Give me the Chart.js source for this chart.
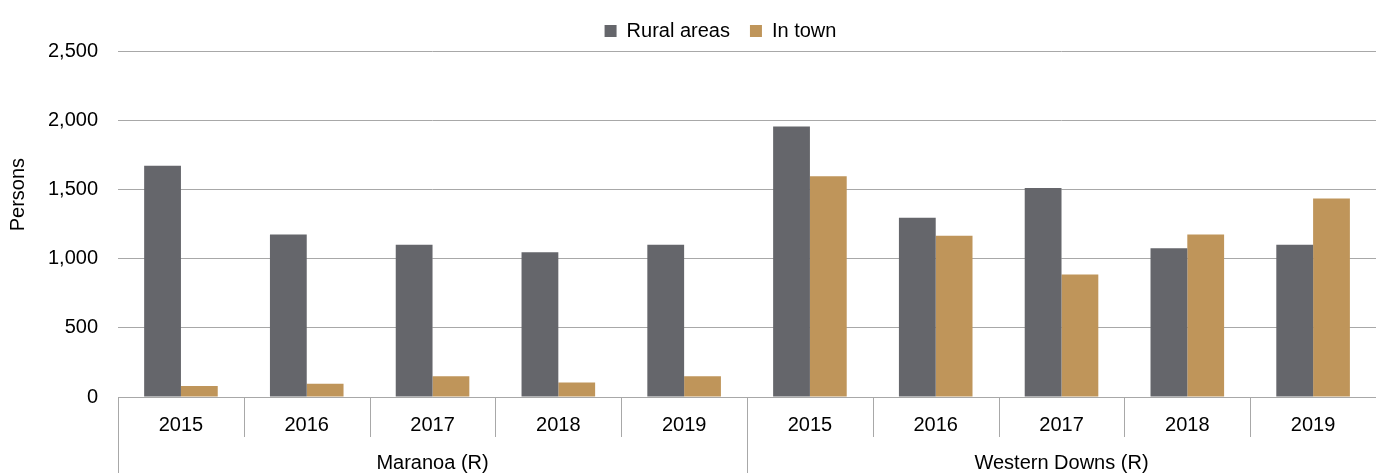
<!DOCTYPE html>
<html>
<head>
<meta charset="utf-8">
<script src="https://cdn.jsdelivr.net/npm/chart.js@4.4.0/dist/chart.umd.min.js"></script>
<style>
    html, body { margin: 0; padding: 0; background: #ffffff; }
    #grafico-container { width: 1376px; height: 473px; position: relative; }
</style>
</head>
<body>
<div id="grafico-container"><canvas id="grafico"></canvas></div>
<script>
// dados
const anos = ['2015', '2016', '2017', '2018', '2019', '2015', '2016', '2017', '2018', '2019'];
const regioes = ['Maranoa (R)', 'Western Downs (R)'];
const ruralAreas = [1670, 1175, 1100, 1045, 1100, 1955, 1295, 1510, 1075, 1100];
const inTown = [80, 95, 150, 105, 150, 1595, 1165, 885, 1175, 1435];
const yTicks = [0, 500, 1000, 1500, 2000, 2500];
const tituloEixoY = 'Persons';

const cores = {
    rural: '#65666b',
    town: '#bf955a',
    grade: '#a8a8a8',
    texto: '#000000'
};

Chart.defaults.font.family = "'Liberation Sans', Arial, sans-serif";
Chart.defaults.font.size = 20;
Chart.defaults.font.lineHeight = 1;
Chart.defaults.color = cores.texto;

// linhas verticais entre as categorias do eixo x
const divisorias = {
    id: 'divisorias',
    afterDraw(chart) {
        const x = chart.scales.x;
        const ctx = chart.ctx;
        const passo = x.width / anos.length;
        ctx.save();
        ctx.strokeStyle = cores.grade;
        ctx.lineWidth = 1;
        for (let i = 0; i <= anos.length; i++) {
            const px = Math.round(x.left + i * passo) + 0.5;
            const fim = (i % 5 === 0) ? chart.height : x.top + 40;
            ctx.beginPath();
            ctx.moveTo(px, x.top);
            ctx.lineTo(px, fim);
            ctx.stroke();
        }
        ctx.restore();
    }
};

// titulo do eixo y, um pouco acima do centro como no original
const tituloY = {
    id: 'tituloY',
    afterDraw(chart) {
        const y = chart.scales.y;
        const ctx = chart.ctx;
        ctx.save();
        ctx.translate(18, y.top + (y.bottom - y.top) * 0.415);
        ctx.rotate(-Math.PI / 2);
        ctx.font = "20px 'Liberation Sans', Arial, sans-serif";
        ctx.fillStyle = cores.texto;
        ctx.textAlign = 'center';
        ctx.textBaseline = 'middle';
        ctx.fillText(tituloEixoY, 0, 0);
        ctx.restore();
    }
};

// legenda um pouco deslocada para a direita, como no original
const ajusteLegenda = {
    id: 'ajusteLegenda',
    afterLayout(chart) {
        chart.legend.left += 16;
        chart.legend.right += 16;
    }
};

const ctx = document.getElementById('grafico').getContext('2d');
new Chart(ctx, {
    type: 'bar',
    data: {
        labels: anos,
        datasets: [
            {
                label: 'Rural areas',
                data: ruralAreas,
                backgroundColor: cores.rural,
                borderWidth: 0
            },
            {
                label: 'In town',
                data: inTown,
                backgroundColor: cores.town,
                borderWidth: 0
            }
        ]
    },
    options: {
        responsive: true,
        maintainAspectRatio: false,
        animation: false,
        datasets: {
            bar: {
                categoryPercentage: 0.585,
                barPercentage: 1
            }
        },
        layout: {
            padding: { top: 1, left: 28, right: -5, bottom: 0 }
        },
        plugins: {
            legend: {
                position: 'top',
                labels: {
                    boxWidth: 12,
                    boxHeight: 12,
                    padding: 20,
                    color: cores.texto
                }
            },
            tooltip: { enabled: false }
        },
        scales: {
            x: {
                type: 'category',
                grid: { display: false, drawTicks: false },
                border: { display: true, color: cores.grade, width: 1 },
                ticks: { padding: 18, maxRotation: 0, autoSkip: false }
            },
            x2: {
                type: 'category',
                labels: regioes,
                position: 'bottom',
                offset: true,
                grid: { display: false, drawTicks: false },
                border: { display: false },
                ticks: { padding: 0, maxRotation: 0, autoSkip: false }
            },
            y: {
                min: 0,
                max: 2500,
                afterBuildTicks(axis) {
                    axis.ticks = yTicks.map(v => ({ value: v }));
                },
                grid: { color: cores.grade, lineWidth: 1, drawTicks: false },
                border: { display: false },
                ticks: {
                    padding: 20,
                    callback: (v) => v.toLocaleString('en-US')
                }
            }
        }
    },
    plugins: [divisorias, tituloY, ajusteLegenda]
});
</script>
</body>
</html>
